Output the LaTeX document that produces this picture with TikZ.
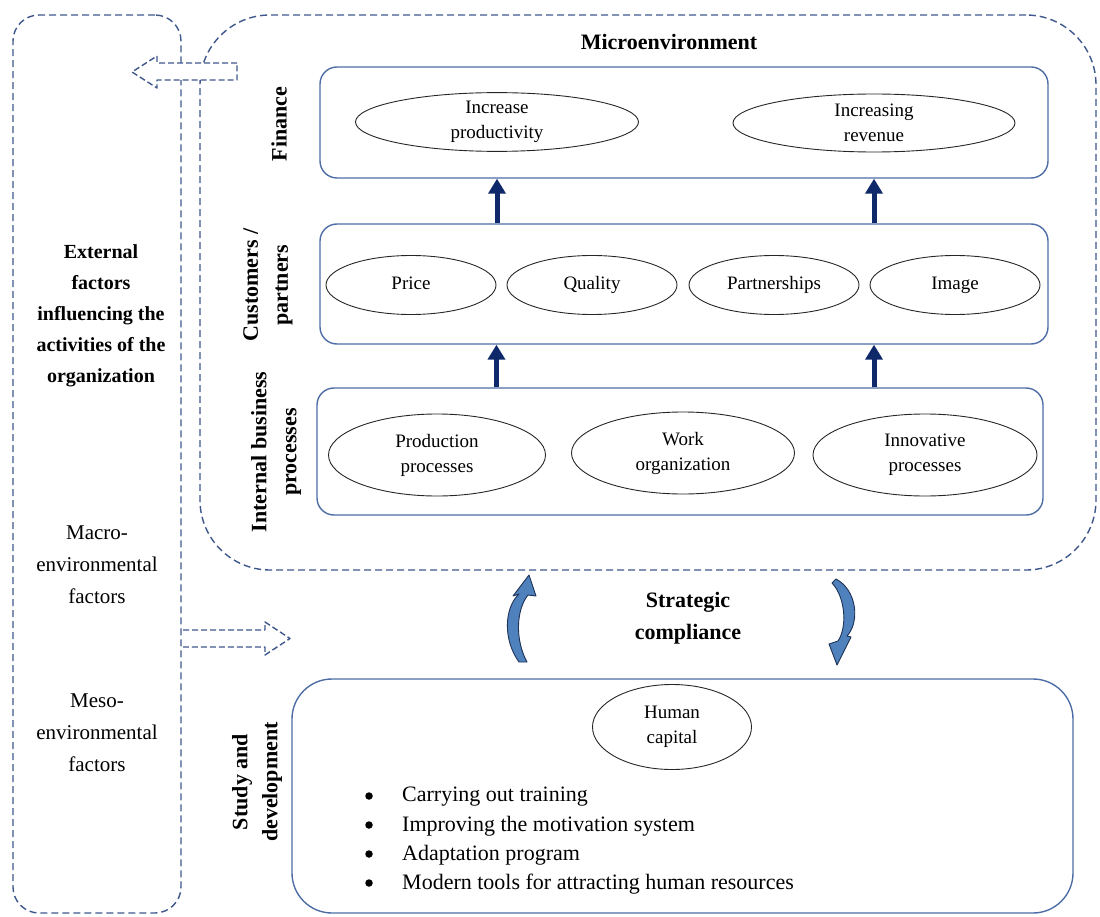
\documentclass[tikz,border=0pt]{standalone}
\usepackage{fontspec}
\setmainfont{Liberation Serif}
\usetikzlibrary{shapes.geometric, arrows.meta}
\definecolor{dashblue}{RGB}{62,88,140}
\definecolor{boxblue}{RGB}{78,108,165}
\definecolor{navyarrow}{RGB}{14,40,105}
\definecolor{turnfill}{RGB}{79,129,189}
\definecolor{turnline}{RGB}{30,50,85}

\begin{document}
\begin{tikzpicture}[x=1pt, y=-1pt,
    dashbox/.style={draw=dashblue, line width=1.4pt, dash pattern=on 7pt off 4pt, inner sep=0},
    solidbox/.style={draw=boxblue, line width=1.4pt, rounded corners=17pt, inner sep=0, minimum width=728pt},
    oval/.style={ellipse, draw=black!85, line width=0.9pt, inner sep=0, align=center, font=\fontsize{19}{25}\selectfont},
    sidelabel/.style={rotate=90, align=center, font=\bfseries\fontsize{22}{30}\selectfont},
    uparrow/.style={draw=navyarrow, line width=5pt, -{Triangle[width=17pt, length=15pt]}},
    hollow/.style={draw=dashblue, fill=white, line width=1.4pt, dash pattern=on 6pt off 3pt, line join=round},
    turn/.style={fill=turnfill, draw=turnline, line width=0.9pt, line join=round},
    dot/.style={circle, fill=black, inner sep=0, minimum size=7.5pt}]
  \useasboundingbox (0,0) rectangle (1100,917);

  % outer panels
  \node[dashbox, rounded corners=70pt, minimum width=896pt, minimum height=555pt] (micro) at (648,292.5) {};
  \node[dashbox, rounded corners=26pt, minimum width=168pt, minimum height=898pt] (ext) at (97,464) {};
  \node[font=\bfseries\fontsize{22}{28}\selectfont] (microtitle) at (669,42) {Microenvironment};

  % left panel texts
  \node[align=center, font=\bfseries\fontsize{20}{31}\selectfont] (extlabel) at (101,316) {External\\factors\\influencing the\\activities of the\\organization};
  \node[align=center, font=\fontsize{21}{32}\selectfont] (macro) at (97,565) {Macro-\\environmental\\factors};
  \node[align=center, font=\fontsize{21}{32}\selectfont] (meso) at (97,733) {Meso-\\environmental\\factors};

  % perspective boxes
  \node[solidbox, minimum height=111pt] (fin) at (684,122.5) {};
  \node[solidbox, minimum height=120pt] (cust) at (684,284) {};
  \node[solidbox, minimum width=726pt, minimum height=127pt] (proc) at (680,451.5) {};
  \node[solidbox, rounded corners=40pt, minimum width=781pt, minimum height=234pt] (study) at (682.5,796) {};

  \node[sidelabel] (finlabel) at (279,124) {Finance};
  \node[sidelabel] (custlabel) at (268,285) {Customers /\\partners};
  \node[sidelabel] (proclabel) at (276,452) {Internal business\\processes};
  \node[sidelabel] (studylabel) at (257,782) {Study and\\development};

  % goals
  \node[oval, minimum width=283pt, minimum height=57pt] (inc) at (497,122) {Increase\\productivity};
  \node[oval, minimum width=282pt, minimum height=58pt] (rev) at (874,123) {Increasing\\revenue};
  \foreach \name/\x/\txt in {price/411/Price, quality/592/Quality, partner/774/Partnerships, image/955/Image}
    \node[oval, minimum width=170pt, minimum height=59pt] (\name) at (\x,285) {\vphantom{Qy}\txt};
  \node[oval, minimum width=217pt, minimum height=82pt] (production) at (437,455) {Production\\processes};
  \node[oval, minimum width=223pt, minimum height=82pt] (work) at (683,453) {Work\\organization};
  \node[oval, minimum width=224pt, minimum height=82pt] (innov) at (925,455) {Innovative\\processes};
  \node[oval, minimum width=159pt, minimum height=85pt] (human) at (672,727) {Human\\capital};

  \draw[uparrow] (cust.north -| inc) -- (fin.south -| inc);
  \draw[uparrow] (cust.north -| rev) -- (fin.south -| rev);
  \draw[uparrow] (proc.north -| price.east) -- (cust.south -| price.east);
  \draw[uparrow] (proc.north -| rev) -- (cust.south -| rev);

  % training measures
  \foreach \txt [count=\i] in {Carrying out training, Improving the motivation system, Adaptation program, Modern tools for attracting human resources} {
    \node[dot] (dot\i) at (369,767+29*\i) {};
    \node[anchor=west, inner sep=0, font=\fontsize{22}{29}\selectfont] (item\i) at (402,768+29*\i) {\txt};
  }

  % strategic compliance
  \node[align=center, font=\bfseries\fontsize{22}{32}\selectfont] (compliance) at (688,618) {Strategic\\compliance};
  \draw[turn] (519,662) .. controls (503,640) and (504,608) .. (519,594) -- (513,596) -- (529,575) -- (536,596) -- (528,595)
    .. controls (516,610) and (515,640) .. (527,662) -- cycle;
  \draw[turn] (836,579) .. controls (857,590) and (860,622) .. (847,636) -- (851,637) -- (837,665) -- (829,644) -- (838,641)
    .. controls (847,628) and (846,598) .. (832,583) -- cycle;

  % hollow block arrows
  \draw[hollow] (237,63) -- (157,63) -- (157,56) -- (132,72) -- (157,88) -- (157,80) -- (237,80) -- cycle;
  \fill[white] (183,630) -- (265,630) -- (265,622) -- (290,638.5) -- (265,655) -- (265,647) -- (183,647) -- cycle;
  \draw[hollow] (183,630) -- (265,630) -- (265,622) -- (290,638.5) -- (265,655) -- (265,647) -- (183,647);
\end{tikzpicture}
\end{document}
